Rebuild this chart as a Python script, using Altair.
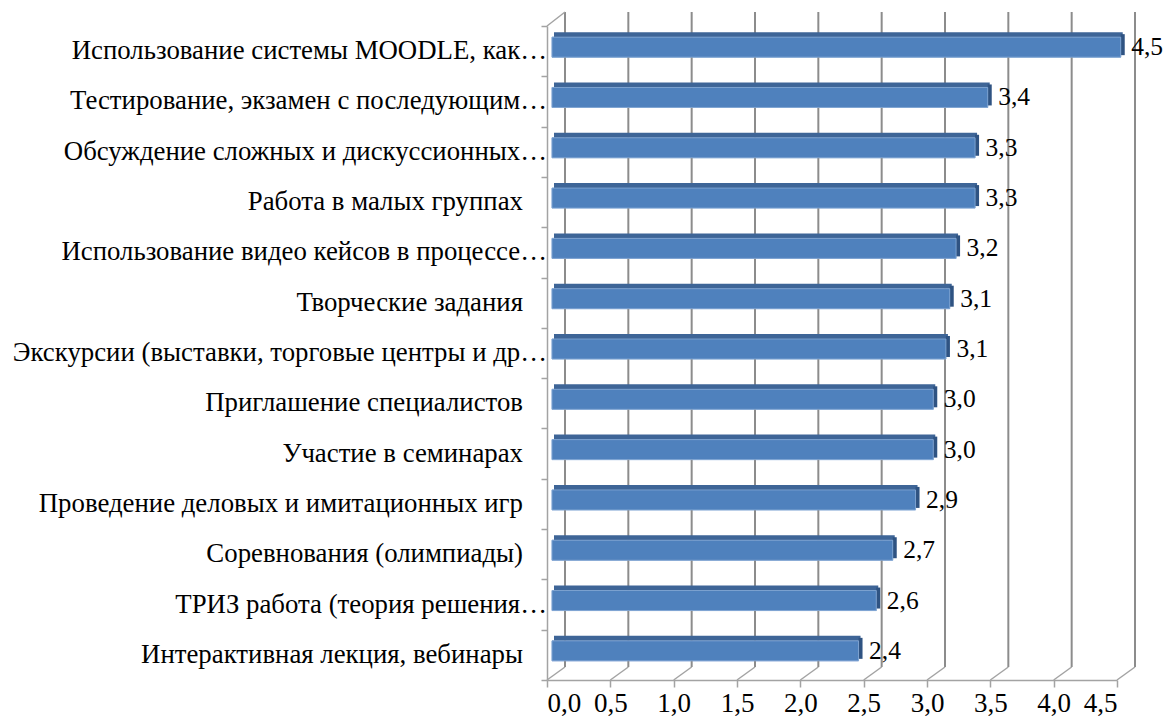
import altair as alt
import pandas as pd

categories = [
    "Использование системы MOODLE, как…",
    "Тестирование, экзамен с последующим…",
    "Обсуждение сложных и дискуссионных…",
    "Работа в малых группах",
    "Использование видео кейсов в процессе…",
    "Творческие задания",
    "Экскурсии (выставки, торговые центры и др…",
    "Приглашение специалистов",
    "Участие в семинарах",
    "Проведение деловых и имитационных игр",
    "Соревнования (олимпиады)",
    "ТРИЗ работа (теория решения…",
    "Интерактивная лекция, вебинары",
]
values = [4.49, 3.44, 3.34, 3.34, 3.19, 3.14, 3.11, 3.01, 3.01, 2.87, 2.69, 2.56, 2.42]
ticks = [0.0, 0.5, 1.0, 1.5, 2.0, 2.5, 3.0, 3.5, 4.0, 4.5]

df = pd.DataFrame({"cat": categories, "v": values})
tick_df = pd.DataFrame({"t": ticks})

FONT = "Liberation Serif"
GRID = "#8c8c8c"
AXIS = "#a3a3a3"

x_scale = alt.Scale(domain=[0, 4.5], nice=False, zero=True)
y_scale = alt.Scale(domain=categories, paddingInner=0, paddingOuter=0)

x_axis = alt.Axis(
    values=ticks, title=None, grid=False,
    domainColor=AXIS, domainWidth=1.5,
    tickColor=AXIS, tickSize=7, tickWidth=1.5,
    labelFont=FONT, labelFontSize=27, labelColor="black", labelPadding=3.5,
    labelExpr="replace(format(datum.value, '.1f'), '.', ',')",
)
y_axis = alt.Axis(
    title=None, grid=False, labels=False,
    domainColor=AXIS, domainWidth=1.5,
    tickColor=AXIS, tickSize=6, tickWidth=1.5, tickBand="extent",
)

X = alt.X("t:Q", scale=x_scale, axis=x_axis)
Y = alt.Y("cat:N", scale=y_scale, sort=None, axis=y_axis)
Xv = alt.X("v:Q", scale=x_scale, axis=x_axis)

grid = alt.Chart(tick_df).mark_rule(color=GRID, strokeWidth=2, xOffset=18).encode(
    x=X, y=alt.value(-14), y2=alt.value(641)
)
floor = alt.Chart(tick_df).mark_rule(color=AXIS, strokeWidth=1.5, x2Offset=18).encode(
    x=X, x2="t:Q", y=alt.value(654), y2=alt.value(641)
)
wall_top = alt.Chart(tick_df).transform_filter("datum.t == 0").mark_rule(
    color=AXIS, strokeWidth=1.5, x2Offset=18
).encode(x=X, x2="t:Q", y=alt.value(0), y2=alt.value(-14))

front_face = alt.Chart(df).mark_bar(
    color="#4f81bd", size=20, yOffset=-4, xOffset=5, x2Offset=5,
    stroke="#86a9d6", strokeWidth=0.8
).encode(x=Xv, y=Y)
top_face = alt.Chart(df).mark_bar(
    color="#3e6597", size=5, yOffset=-16.5, xOffset=7, x2Offset=7
).encode(x=Xv, y=Y)
side_face = alt.Chart(df).mark_bar(
    color="#2f5382", size=21, yOffset=-6.5, xOffset=5, x2Offset=9
).encode(x=Xv, x2="v:Q", y=Y)
labels = alt.Chart(df).transform_calculate(
    lab="replace(format(datum.v, '.1f'), '.', ',')"
).mark_text(
    font=FONT, fontSize=25.5, color="black", align="left", baseline="middle",
    dx=15.5, dy=-4
).encode(x=Xv, y=Y, text="lab:N")

cat_trunc = alt.Chart(df).transform_filter("slice(datum.cat, -1) == '…'").mark_text(
    font=FONT, fontSize=26.8, color="black", align="right", baseline="middle", dx=0
).encode(x=alt.value(0), y=Y, text="cat:N")
cat_full = alt.Chart(df).transform_filter("slice(datum.cat, -1) != '…'").mark_text(
    font=FONT, fontSize=26.8, color="black", align="right", baseline="middle", dx=-24
).encode(x=alt.value(0), y=Y, text="cat:N")

chart = alt.layer(
    front_face, grid, floor, wall_top, top_face, side_face, front_face, labels,
    cat_trunc, cat_full
).properties(
    width=570, height=654,
    padding={"left": 539, "top": 18, "right": 46, "bottom": 37},
    autosize=alt.AutoSizeParams(type="none"),
    background="white",
).configure_view(stroke=None)

chart.save("out.html", embed_options={"renderer": "svg", "actions": False})
